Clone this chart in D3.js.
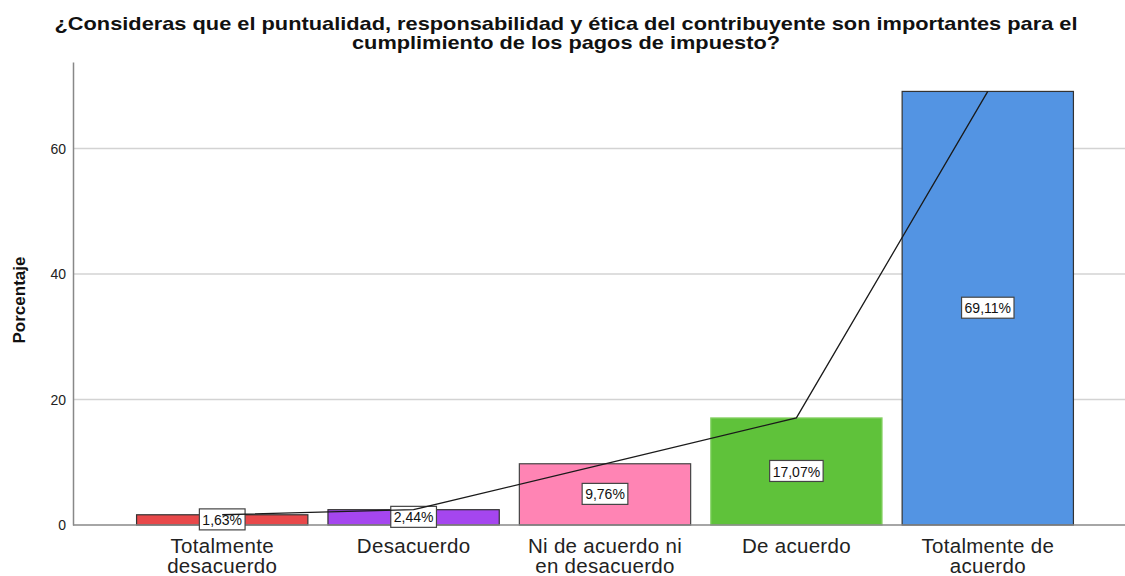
<!DOCTYPE html>
<html>
<head>
<meta charset="utf-8">
<script src="https://cdn.jsdelivr.net/npm/d3@7"></script>
<style>
  body { margin: 0; background: #fff; }
  text { font-family: "Liberation Sans", Arial, sans-serif; }
</style>
</head>
<body>
<div id="chart"></div>
<script>
const categories = [
    ["Totalmente", "desacuerdo"],
    ["Desacuerdo"],
    ["Ni de acuerdo ni", "en desacuerdo"],
    ["De acuerdo"],
    ["Totalmente de", "acuerdo"]
];
const values = [1.63, 2.44, 9.76, 17.07, 69.11];
const labels = ["1,63%", "2,44%", "9,76%", "17,07%", "69,11%"];
const barColors = ["#e8484a", "#a546ef", "#ff84b4", "#5fc23a", "#5394e3"];
const barStrokes = ["#333", "#333", "#444", "#8bd36c", "#333"];
const yTicks = [0, 20, 40, 60];
const titleLines = [
    "¿Consideras que el puntualidad, responsabilidad y ética del contribuyente son importantes para el",
    "cumplimiento de los pagos de impuesto?"
];
const titleWidths = [1023, 428];

const width = 1125, height = 576;
const svg = d3.select("#chart").append("svg")
    .attr("width", width)
    .attr("height", height);

const xScale = d3.scaleBand()
    .domain(d3.range(values.length))
    .range([127, 1083])
    .paddingInner(0.105)
    .paddingOuter(0.05);

const yScale = d3.scaleLinear()
    .domain([0, 73.8])
    .range([525, 62]);

// gridlines
svg.append("g")
    .selectAll("line")
    .data(yTicks.filter(d => d > 0))
    .enter().append("line")
        .attr("x1", 73).attr("x2", width)
        .attr("y1", d => yScale(d)).attr("y2", d => yScale(d))
        .style("stroke", "#d3d3d3")
        .style("stroke-width", 1.5);

// y axis
const yAxis = svg.append("g")
    .attr("transform", "translate(73,0)")
    .call(d3.axisLeft(yScale).tickValues(yTicks).tickSize(0).tickPadding(7));
yAxis.select(".domain").style("stroke", "#888").style("stroke-width", 1.5);
yAxis.selectAll("text")
    .style("font-family", "Liberation Sans, Arial, sans-serif")
    .style("font-size", "14px")
    .style("fill", "#222");

// bars
svg.append("g")
    .selectAll("rect")
    .data(values)
    .enter().append("rect")
        .attr("x", (d, i) => xScale(i))
        .attr("y", d => yScale(d))
        .attr("width", xScale.bandwidth())
        .attr("height", d => yScale(0) - yScale(d))
        .style("fill", (d, i) => barColors[i])
        .style("stroke", (d, i) => barStrokes[i])
        .style("stroke-width", 1.2);

// baseline
svg.append("line")
    .attr("x1", 73).attr("x2", width)
    .attr("y1", yScale(0)).attr("y2", yScale(0))
    .style("stroke", "#888")
    .style("stroke-width", 1.5);

// value labels
const lab = svg.append("g")
    .selectAll("g")
    .data(values)
    .enter().append("g")
        .attr("transform", (d, i) => "translate(" + (xScale(i) + xScale.bandwidth() / 2) + "," + yScale(d / 2) + ")");
lab.append("text")
    .attr("text-anchor", "middle")
    .attr("dy", "0.36em")
    .style("font-size", "14px")
    .style("fill", "#111")
    .text((d, i) => labels[i]);
lab.each(function() {
    const g = d3.select(this);
    const bb = g.select("text").node().getBBox();
    g.insert("rect", "text")
        .attr("x", bb.x - 3)
        .attr("y", -11)
        .attr("width", bb.width + 6)
        .attr("height", 21)
        .style("fill", "#fff")
        .style("stroke", "#444")
        .style("stroke-width", 1.2);
});

// line through bar tops
const line = d3.line()
    .x((d, i) => xScale(i) + xScale.bandwidth() / 2)
    .y(d => yScale(d));
svg.append("path")
    .datum(values)
    .attr("d", line)
    .style("fill", "none")
    .style("stroke", "#1a1a1a")
    .style("stroke-width", 1.3);

// x category labels
const cat = svg.append("g")
    .selectAll("text")
    .data(categories)
    .enter().append("text")
        .attr("x", (d, i) => xScale(i) + xScale.bandwidth() / 2)
        .attr("y", 553)
        .attr("text-anchor", "middle")
        .style("font-size", "20.5px")
        .style("letter-spacing", "0.3px")
        .style("fill", "#222");
cat.selectAll("tspan")
    .data(d => d)
    .enter().append("tspan")
        .attr("x", function() { return this.parentNode.getAttribute("x"); })
        .attr("dy", (d, i) => i === 0 ? 0 : 19.5)
        .text(d => d);

// y axis title
svg.append("text")
    .attr("transform", "translate(25,300) rotate(-90)")
    .attr("text-anchor", "middle")
    .style("font-size", "17px")
    .style("font-weight", "bold")
    .style("fill", "#111")
    .text("Porcentaje");

// chart title
svg.append("g")
    .selectAll("text")
    .data(titleLines)
    .enter().append("text")
        .attr("x", 566)
        .attr("y", (d, i) => 30 + i * 19)
        .attr("text-anchor", "middle")
        .attr("textLength", (d, i) => titleWidths[i])
        .attr("lengthAdjust", "spacingAndGlyphs")
        .style("font-size", "18.5px")
        .style("font-weight", "bold")
        .style("fill", "#111")
        .text(d => d);
</script>
</body>
</html>
